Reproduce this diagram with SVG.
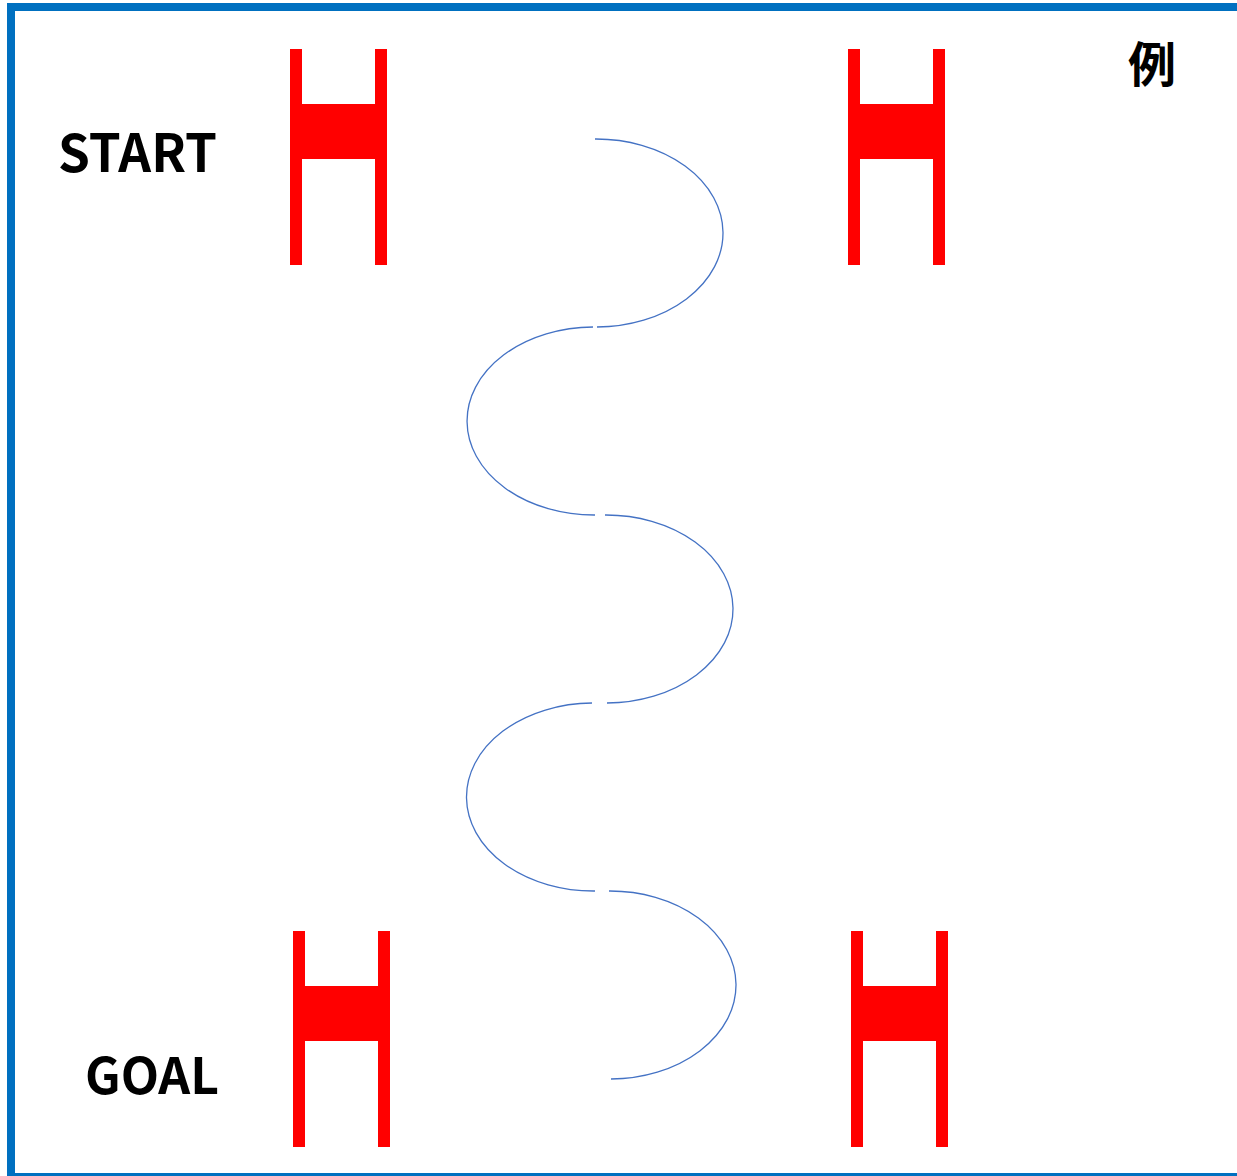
<svg xmlns="http://www.w3.org/2000/svg" width="1237" height="1176" viewBox="0 0 1237 1176">
<style>
.post{fill:#FF0000}
.arc{fill:none;stroke:#4472C4;stroke-width:1.3}
.lbl{font-family:"Noto Sans CJK JP","Liberation Sans",sans-serif;font-weight:bold;fill:#000}
</style>
<defs>
<g id="hshape">
<rect class="post" x="0" y="0" width="12" height="216"/>
<rect class="post" x="85" y="0" width="12" height="216"/>
<rect class="post" x="12" y="55" width="73" height="55"/>
</g>
</defs>
<rect x="0" y="0" width="1237" height="1176" fill="#FFFFFF"/>
<rect x="11" y="7" width="1240" height="1170" fill="none" stroke="#0070C0" stroke-width="8"/>
<g id="start-label"><text class="lbl" x="58" y="172" font-size="52" textLength="159" lengthAdjust="spacingAndGlyphs">START</text></g>
<g id="goal-label"><text class="lbl" x="85" y="1094" font-size="50" textLength="134" lengthAdjust="spacingAndGlyphs">GOAL</text></g>
<g id="example-label"><text class="lbl" x="1128" y="82" font-size="48">例</text></g>
<g id="gate-start-left"><use href="#hshape" x="290" y="49"/></g>
<g id="gate-start-right"><use href="#hshape" x="848" y="49"/></g>
<g id="gate-goal-left"><use href="#hshape" x="293" y="931"/></g>
<g id="gate-goal-right"><use href="#hshape" x="851" y="931"/></g>
<g id="connectors">
<path class="arc" d="M595,139 A127,94 0 0 1 597,327"/>
<path class="arc" d="M593,327 A127,94 0 0 0 595,515"/>
<path class="arc" d="M605,515 A127,94 0 0 1 607,703"/>
<path class="arc" d="M592,703 A127,94 0 0 0 595,891"/>
<path class="arc" d="M609,891 A126,94 0 0 1 611,1079"/>
</g>
</svg>
